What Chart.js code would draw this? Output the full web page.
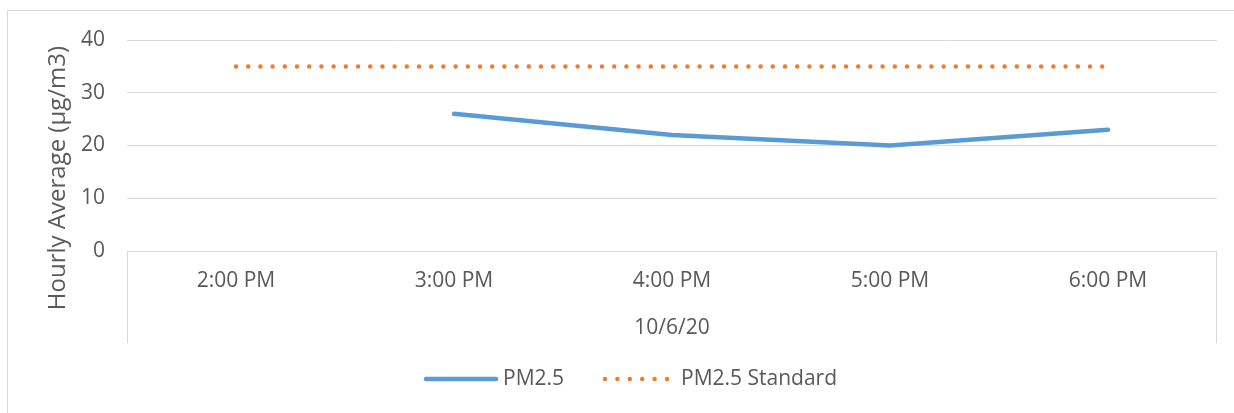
<!DOCTYPE html>
<html>
<head>
<meta charset="utf-8">
<script src="https://cdn.jsdelivr.net/npm/chart.js@4/dist/chart.umd.min.js"></script>
<style>
  html, body { margin: 0; padding: 0; background: #ffffff; }
  #wrap { position: relative; width: 1234px; height: 413px; }
  canvas { display: block; }
</style>
</head>
<body>
<div id="wrap"><canvas id="c" width="1234" height="413"></canvas></div>
<script>
const categories = ['2:00 PM', '3:00 PM', '4:00 PM', '5:00 PM', '6:00 PM'];
const groupLabel = '10/6/20';
const pm25 = [null, 26, 22, 20, 23];
const pm25Standard = [35, 35, 35, 35, 35];
const yTicks = [0, 10, 20, 30, 40];
const yTitle = 'Hourly Average (µg/m3)';
const seriesNames = ['PM2.5', 'PM2.5 Standard'];

const FONT = "'Open Sans', 'Liberation Sans', sans-serif";
const TEXT = '#595959';
const GRID = '#D9D9D9';
const BLUE = '#5B9BD5';
const ORANGE = '#ED7D31';
const FS = 21;

const decor = {
  id: 'decor',
  beforeDraw(chart) {
    const ctx = chart.ctx;
    ctx.save();
    ctx.fillStyle = '#ffffff';
    ctx.fillRect(0, 0, chart.width, chart.height);
    ctx.strokeStyle = GRID;
    ctx.lineWidth = 1;
    ctx.beginPath();
    ctx.moveTo(7.5, 420);
    ctx.lineTo(7.5, 10.5);
    ctx.lineTo(1240, 10.5);
    ctx.stroke();
    ctx.restore();
  },
  afterDraw(chart) {
    const ctx = chart.ctx;
    const a = chart.chartArea;
    ctx.save();
    ctx.strokeStyle = GRID;
    ctx.lineWidth = 1;
    ctx.beginPath();
    ctx.moveTo(Math.round(a.left) + 0.5, a.bottom);
    ctx.lineTo(Math.round(a.left) + 0.5, 343);
    ctx.moveTo(Math.round(a.right) - 0.5, a.bottom);
    ctx.lineTo(Math.round(a.right) - 0.5, 343);
    ctx.stroke();
    ctx.fillStyle = TEXT;
    ctx.font = FS + 'px ' + FONT;
    ctx.textAlign = 'center';
    ctx.textBaseline = 'middle';
    ctx.fillText(groupLabel, (a.left + a.right) / 2, 328);
    // y axis title
    ctx.save();
    ctx.translate(58, 178);
    ctx.rotate(-Math.PI / 2);
    ctx.font = '24px ' + FONT;
    ctx.fillText(yTitle, 0, 0);
    ctx.restore();
    // legend
    const ly = 379;
    ctx.font = FS + 'px ' + FONT;
    ctx.lineCap = 'round';
    ctx.strokeStyle = BLUE;
    ctx.lineWidth = 4.5;
    ctx.beginPath();
    ctx.moveTo(426, ly);
    ctx.lineTo(496, ly);
    ctx.stroke();
    ctx.textAlign = 'left';
    ctx.fillText(seriesNames[0], 503, ly);
    ctx.strokeStyle = ORANGE;
    ctx.setLineDash([0, 12.4]);
    ctx.beginPath();
    ctx.moveTo(605, ly);
    ctx.lineTo(670, ly);
    ctx.stroke();
    ctx.setLineDash([]);
    ctx.fillText(seriesNames[1], 681, ly);
    ctx.restore();
  }
};

new Chart(document.getElementById('c'), {
  type: 'line',
  data: {
    labels: categories,
    datasets: [
      {
        label: seriesNames[0],
        data: pm25,
        borderColor: BLUE,
        backgroundColor: BLUE,
        borderWidth: 4.5,
        borderCapStyle: 'round',
        borderJoinStyle: 'round',
        pointRadius: 0,
        tension: 0,
        spanGaps: false
      },
      {
        label: seriesNames[1],
        data: pm25Standard,
        borderColor: ORANGE,
        backgroundColor: ORANGE,
        borderWidth: 4.5,
        borderCapStyle: 'round',
        borderDash: [0, 12.2],
        pointRadius: 0,
        tension: 0
      }
    ]
  },
  options: {
    responsive: false,
    animation: false,
    devicePixelRatio: 1,
    layout: { padding: { left: 0, top: 40, right: 17, bottom: 0 } },
    plugins: { legend: { display: false }, tooltip: { enabled: false } },
    scales: {
      x: {
        type: 'category',
        offset: true,
        grid: { display: false, drawTicks: false },
        border: { display: false },
        ticks: { color: TEXT, font: { family: FONT, size: FS }, padding: 17, maxRotation: 0 },
        afterFit(s) { s.height = 162; }
      },
      y: {
        min: 0, max: 40,
        afterBuildTicks(s) { s.ticks = yTicks.map(v => ({ value: v })); },
        grid: { color: GRID, lineWidth: 1, drawTicks: false },
        border: { display: false },
        ticks: { color: TEXT, font: { family: FONT, size: FS }, padding: 22 },
        afterFit(s) { s.width = 127; }
      }
    }
  },
  plugins: [decor]
});
</script>
</body>
</html>
